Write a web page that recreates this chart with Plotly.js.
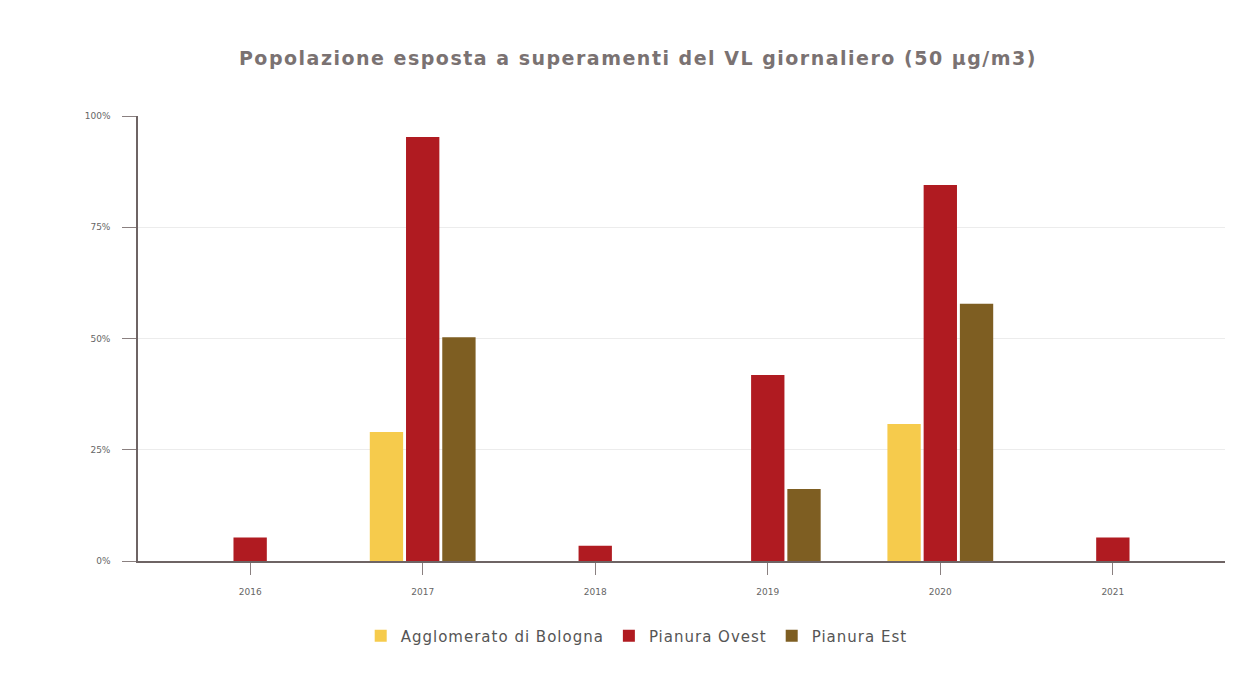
<!DOCTYPE html>
<html>
<head>
<meta charset="utf-8">
<script src="https://cdn.plot.ly/plotly-3.0.1.min.js"></script>
<style>html,body{margin:0;padding:0;background:#fff;}#chart{width:1246px;height:673px;}</style>
</head>
<body>
<div id="chart"></div>
<script>
const years = ['2016', '2017', '2018', '2019', '2020', '2021'];
const seriesNames = ['Agglomerato di Bologna', 'Pianura Ovest', 'Pianura Est'];
const bologna = [0, 29.0, 0, 0, 30.8, 0];
const ovest = [5.3, 95.3, 3.4, 41.8, 84.5, 5.3];
const est = [0, 50.3, 0, 16.2, 57.8, 0];
const colors = ['#F6CB4C', '#B01B21', '#7E5E22'];
const yTicks = [0, 25, 50, 75, 100];
const yTickText = ['0%', '25%', '50%', '75%', '100%'];
const titleText = 'Popolazione esposta a superamenti del VL giornaliero (50 µg/m3)';

const values = [bologna, ovest, est];
const data = values.map((v, i) => ({
  type: 'bar', x: years, y: v,
  name: '<span style="letter-spacing:1px">' + seriesNames[i] + '</span>',
  marker: {color: colors[i]}, hoverinfo: 'x+y'
}));

const layout = {
  width: 1246, height: 673,
  paper_bgcolor: '#ffffff', plot_bgcolor: '#ffffff',
  margin: {l: 138, r: 21, t: 116, b: 112},
  title: {text: '<b><span style="letter-spacing:1.5px">' + titleText + '</span></b>',
          x: 0.512, xanchor: 'center', y: 0.913, yanchor: 'middle',
          font: {family: 'DejaVu Sans', size: 19, color: '#7a7272'}},
  barmode: 'group', bargap: 0.37, bargroupgap: 0.08,
  xaxis: {type: 'category', range: [-0.65, 5.65], showline: true, linecolor: '#6e6464', linewidth: 1.5,
          ticks: 'outside', ticklen: 12, tickcolor: '#8a8080', showgrid: false, ticklabelstandoff: 9,
          tickfont: {family: 'DejaVu Sans', size: 9, color: '#666'}},
  yaxis: {range: [0, 100], tickvals: yTicks, ticktext: yTickText, showline: true, linecolor: '#6e6464', linewidth: 1.5,
          ticks: 'outside', ticklen: 14, tickcolor: '#8a8080', gridcolor: '#ececec', zeroline: false,
          ticklabelstandoff: 10,
          tickfont: {family: 'DejaVu Sans', size: 9, color: '#666'}},
  legend: {orientation: 'h', x: 0.511, xref: 'container', xanchor: 'center', y: 0.055, yref: 'container', yanchor: 'middle',
           font: {family: 'DejaVu Sans', size: 15, color: '#555'}, itemwidth: 30},
  showlegend: true
};
Plotly.newPlot('chart', data, layout, {displayModeBar: false});
</script>
</body>
</html>
